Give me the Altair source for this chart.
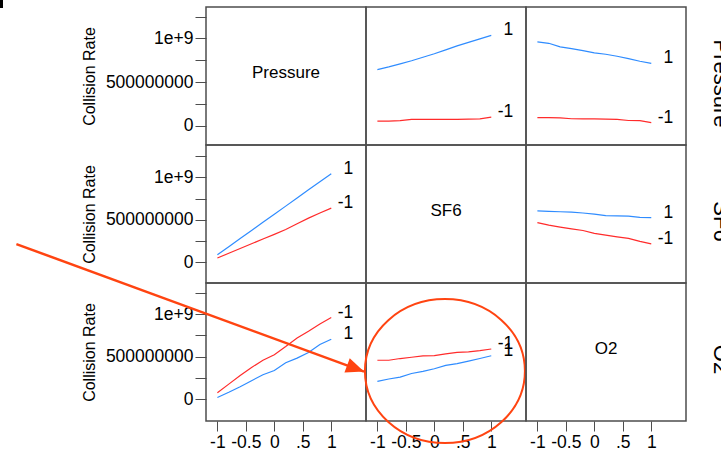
import math
import altair as alt
import pandas as pd

# ---------------- data ----------------
factors = ["Pressure", "SF6", "O2"]
levels = [-1.0, -0.8, -0.6, -0.4, -0.2, 0.0, 0.2, 0.4, 0.6, 0.8, 1.0]
series_names = ["1", "-1"]
series_colors = ["#2f8cff", "#ff2b2b"]

# collision rate (x 1e9); first key = legend factor (row), second = x factor (column)
pressure_by_sf6_hi = [0.644, 0.675, 0.71, 0.745, 0.785, 0.825, 0.87, 0.915, 0.955, 0.995, 1.035]
pressure_by_sf6_lo = [0.055, 0.055, 0.06, 0.075, 0.075, 0.075, 0.075, 0.075, 0.078, 0.08, 0.1]
pressure_by_o2_hi = [0.962, 0.945, 0.905, 0.885, 0.862, 0.836, 0.82, 0.797, 0.77, 0.74, 0.716]
pressure_by_o2_lo = [0.095, 0.095, 0.093, 0.082, 0.08, 0.08, 0.078, 0.075, 0.062, 0.06, 0.038]
sf6_by_pressure_hi = [0.09, 0.185, 0.28, 0.376, 0.471, 0.566, 0.661, 0.756, 0.852, 0.947, 1.042]
sf6_by_pressure_lo = [0.052, 0.108, 0.163, 0.219, 0.275, 0.33, 0.386, 0.455, 0.52, 0.58, 0.637]
sf6_by_o2_hi = [0.605, 0.60, 0.595, 0.59, 0.58, 0.567, 0.55, 0.547, 0.543, 0.53, 0.527]
sf6_by_o2_lo = [0.468, 0.438, 0.415, 0.395, 0.375, 0.342, 0.32, 0.30, 0.282, 0.248, 0.219]
o2_by_pressure_hi = [0.024, 0.085, 0.15, 0.22, 0.29, 0.34, 0.43, 0.485, 0.55, 0.645, 0.706]
o2_by_pressure_lo = [0.078, 0.18, 0.28, 0.375, 0.46, 0.525, 0.62, 0.72, 0.80, 0.885, 0.96]
o2_by_sf6_hi = [0.212, 0.24, 0.262, 0.305, 0.33, 0.36, 0.40, 0.42, 0.45, 0.48, 0.513]
o2_by_sf6_lo = [0.46, 0.46, 0.48, 0.495, 0.51, 0.515, 0.535, 0.553, 0.558, 0.572, 0.592]

curves = {
    ("Pressure", "SF6"): (pressure_by_sf6_hi, pressure_by_sf6_lo),
    ("Pressure", "O2"): (pressure_by_o2_hi, pressure_by_o2_lo),
    ("SF6", "Pressure"): (sf6_by_pressure_hi, sf6_by_pressure_lo),
    ("SF6", "O2"): (sf6_by_o2_hi, sf6_by_o2_lo),
    ("O2", "Pressure"): (o2_by_pressure_hi, o2_by_pressure_lo),
    ("O2", "SF6"): (o2_by_sf6_hi, o2_by_sf6_lo),
}

xtick_values = [-1, -0.5, 0, 0.5, 1]
xtick_labels = ["-1", "-0.5", "0", ".5", "1"]
ytick_values = [0, 2.5e8, 5e8, 7.5e8, 1e9, 1.25e9]
ytick_labels = ["0", "", "500000000", "", "1e+9", ""]
y_title = "Collision Rate"

x_domain = [-1.2, 1.61]
row_domains = [[-0.218e9, 1.36e9], [-0.241e9, 1.378e9], [-0.252e9, 1.365e9]]

# annotation (in SF6 / Collision Rate units of the O2-row, SF6-column panel)
arrow_from = [-7.34, 1.821e9]
arrow_to = [-1.235, 0.327e9]
circle_center = [0.186, 0.333e9]

# ---------------- styling ----------------
W, H = 160, 138
FONT = "Liberation Sans"
INK = "#000000"
FRAME = "#4d4d4d"
ANNOT = "#ff4411"

rows = []
for key, (hi, lo) in curves.items():
    for name, vals in zip(series_names, (hi, lo)):
        for xv, v in zip(levels, vals):
            rows.append({"row": key[0], "col": key[1], "x": xv, "rate": v * 1e9, "series": name})
df = pd.DataFrame(rows)


def expr_from(values, labels):
    parts = []
    for v, l in zip(values, labels):
        parts.append(f"abs(datum.value - ({v})) < 1e-6 ? '{l}' : ")
    return "".join(parts) + "''"


def x_enc(r):
    if r == 2:
        axis = alt.Axis(values=xtick_values, labelExpr=expr_from(xtick_values, xtick_labels),
                        title=None, domain=False, grid=False, tickSize=10, tickColor=FRAME,
                        tickWidth=1, labelFontSize=17.5, labelPadding=2, labelColor=INK,
                        labelFont=FONT, labelFlush=False, labelOverlap=False)
    else:
        axis = None
    return alt.X("x:Q", scale=alt.Scale(domain=x_domain, nice=False, zero=False), axis=axis)


def y_enc(r, c):
    scale = alt.Scale(domain=row_domains[r], nice=False, zero=False)
    if c == 0:
        axis = alt.Axis(values=ytick_values, labelExpr=expr_from(ytick_values, ytick_labels),
                        title=y_title, domain=False, grid=False, tickSize=11, tickColor=FRAME,
                        tickWidth=1, labelFontSize=17.5, labelPadding=2, labelColor=INK,
                        labelFont=FONT, labelFlush=False, labelOverlap=False,
                        titleFont=FONT, titleFontSize=16, titleFontWeight="normal",
                        titleColor=INK, titlePadding=8)
    elif c == 2:
        axis = alt.Axis(orient="right", labels=False, ticks=False, domain=False, grid=False,
                        title=factors[r], titleFont=FONT, titleFontSize=22,
                        titleFontWeight="normal", titleColor=INK, titlePadding=22,
                        titleY=H / 2 + 7)
    else:
        axis = None
    return alt.Y("rate:Q", scale=scale, axis=axis)


color_enc = alt.Color("series:N", scale=alt.Scale(domain=series_names, range=series_colors),
                      legend=None)

panels = []
for r in range(3):
    for c in range(3):
        sub = df[(df["row"] == factors[r]) & (df["col"] == factors[c])]
        if len(sub) == 0:
            sub = pd.DataFrame({"x": pd.Series(dtype=float), "rate": pd.Series(dtype=float),
                                "series": pd.Series(dtype=str)})
        xe, ye = x_enc(r), y_enc(r, c)
        base = alt.Chart(sub)
        layers = [base.mark_line(strokeWidth=1.2).encode(x=xe, y=ye, color=color_enc)]
        if r != c:
            ends = sub[sub["x"] == levels[-1]]
            layers.append(
                alt.Chart(ends).mark_text(align="right", baseline="middle", dx=22, dy=-5,
                                          font=FONT, fontSize=17.5, color=INK)
                .encode(x=xe, y=ye, text="series:N")
            )
        else:
            layers.append(
                alt.Chart(pd.DataFrame({"label": [factors[r]]}))
                .mark_text(align="center", baseline="middle", dy=-3, font=FONT, fontSize=17,
                           color=INK)
                .encode(x=alt.value(W / 2), y=alt.value(H / 2), text="label:N")
            )
        if r == 0 and c == 0:
            # small cropped fragment at the very top-left corner of the picture
            layers.append(
                alt.Chart(pd.DataFrame({"k": [0]})).mark_rect(color="#000000")
                .encode(x=alt.value(-206), x2=alt.value(-203), y=alt.value(-7), y2=alt.value(1))
            )
        if r == 2 and c == 1:
            sx = W / (x_domain[1] - x_domain[0])
            sy = H / (row_domains[r][1] - row_domains[r][0])
            ang = math.degrees(math.atan2((arrow_from[1] - arrow_to[1]) * sy,
                                          (arrow_to[0] - arrow_from[0]) * sx))
            seg = pd.DataFrame({"x": [arrow_from[0]], "rate": [arrow_from[1]],
                                "x2": [arrow_to[0]], "rate2": [arrow_to[1]]})
            layers.append(
                alt.Chart(seg).mark_rule(color=ANNOT, strokeWidth=2.5)
                .encode(x=xe, y=ye, x2="x2:Q", y2="rate2:Q")
            )
            tip = pd.DataFrame({"x": [arrow_to[0]], "rate": [arrow_to[1]]})
            layers.append(
                alt.Chart(tip).mark_point(shape="M0,0 L-2,-0.85 L-2,0.85 Z", size=324,
                                          angle=ang, filled=True, opacity=1, color=ANNOT,
                                          strokeWidth=0)
                .encode(x=xe, y=ye)
            )
            ring = pd.DataFrame({"x": [circle_center[0]], "rate": [circle_center[1]]})
            layers.append(
                alt.Chart(ring).mark_point(
                    shape="M-1,0 A1,0.9 0 1,1 1,0 A1,0.9 0 1,1 -1,0 Z", size=25600,
                    filled=False, opacity=1, color=ANNOT, strokeWidth=2)
                .encode(x=xe, y=ye)
            )
        panels.append(alt.layer(*layers).properties(width=W, height=H))

chart = (
    alt.concat(*panels, columns=3, spacing=0, bounds="flush")
    .properties(
        autosize=alt.AutoSizeParams(type="none"),
        padding={"left": 206, "top": 7, "right": 515, "bottom": 445},
        background="white",
    )
    .configure_view(stroke=FRAME, strokeWidth=1.5)
)

chart.save("out.html", embed_options={"renderer": "svg", "actions": False})
